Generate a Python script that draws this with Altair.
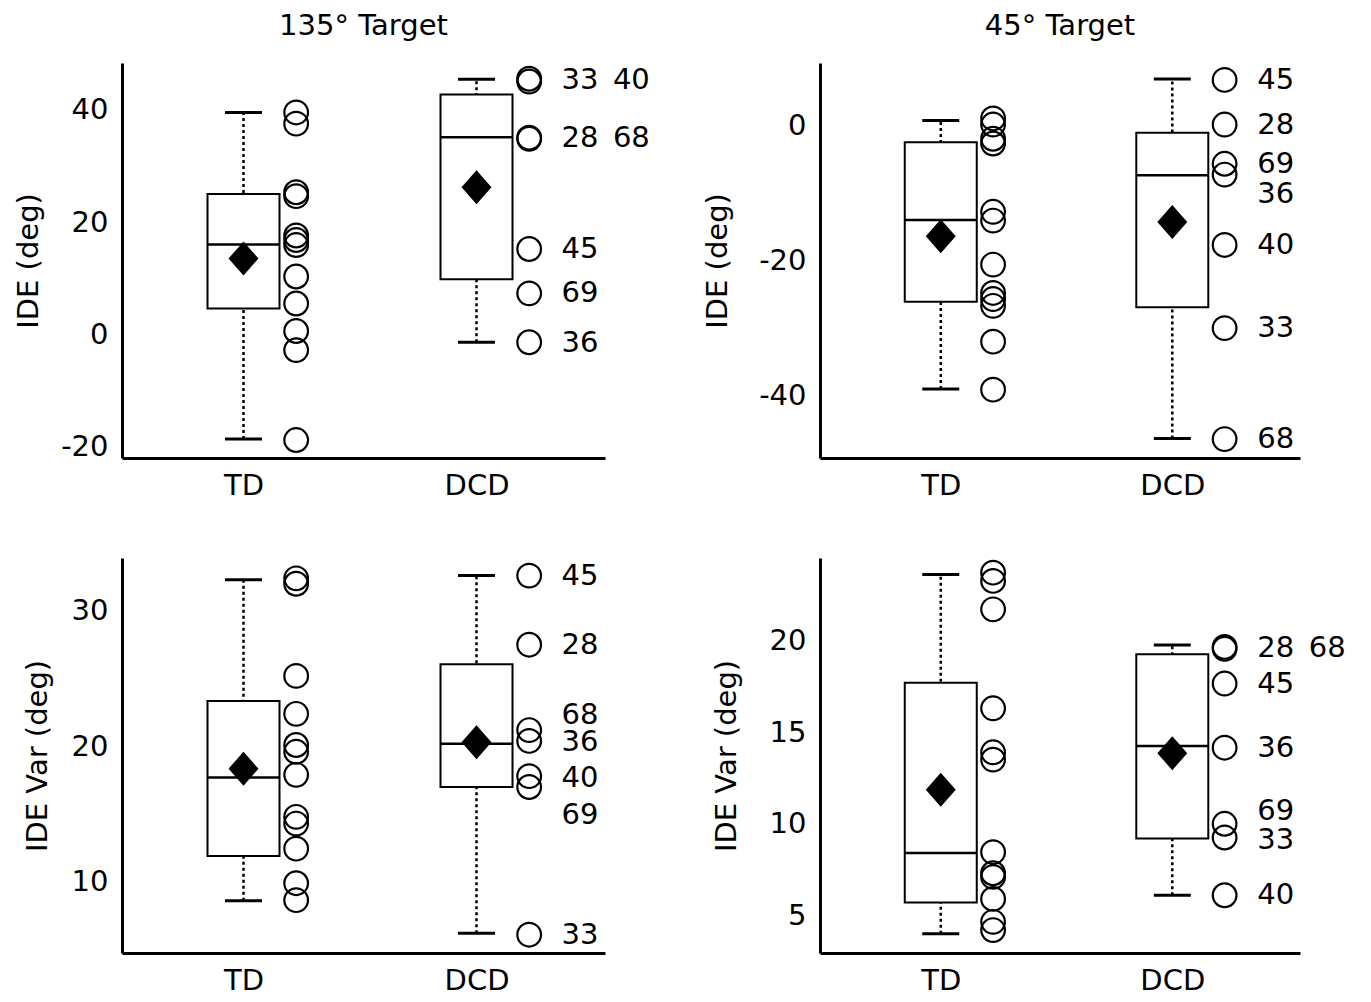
import altair as alt
import pandas as pd

groups = ["TD", "DCD"]
group_pos = [1, 2]

panel_titles = ["135° Target", "45° Target", "", ""]
y_titles = ["IDE (deg)", "IDE (deg)", "IDE Var (deg)", "IDE Var (deg)"]
y_domains = [[-22, 48.3], [-49.2, 9.2], [4.75, 33.9], [2.95, 24.5]]
y_ticks = [[-20, 0, 20, 40], [-40, -20, 0], [10, 20, 30], [5, 10, 15, 20]]

# box statistics per panel: [TD, DCD]
whisker_lo = [[-18.6, -1.4], [-39.0, -46.3], [8.6, 6.2], [4.0, 6.1]]
box_q1 = [[4.6, 9.8], [-26.1, -26.9], [11.9, 17.0], [5.7, 9.2]]
box_median = [[16.0, 35.1], [-14.0, -7.4], [17.7, 20.2], [8.4, 14.25]]
box_q3 = [[25.0, 42.7], [-2.5, -1.1], [23.35, 26.05], [17.7, 19.25]]
whisker_hi = [[39.5, 45.4], [0.7, 6.85], [32.3, 32.6], [23.6, 19.75]]
group_mean = [[13.5, 26.2], [-16.4, -14.3], [18.35, 20.3], [11.85, 13.85]]

td_points = [
    [39.5, 37.5, 25.3, 24.6, 17.6, 16.8, 15.9, 10.3, 5.5, 0.6, -2.8, -18.8],
    [1.0, 0.1, -2.0, -2.7, -12.8, -14.1, -20.6, -24.8, -25.7, -26.7, -32.0, -39.1],
    [32.4, 32.0, 25.2, 22.4, 20.1, 19.6, 17.9, 14.8, 14.3, 12.45, 9.9, 8.65],
    [23.7, 23.25, 21.7, 16.3, 13.9, 13.5, 8.45, 7.3, 7.1, 5.9, 4.65, 4.2],
]
dcd_ids = [
    [33, 40, 28, 68, 45, 69, 36],
    [45, 28, 69, 36, 40, 33, 68],
    [45, 28, 68, 36, 40, 69, 33],
    [28, 68, 45, 36, 69, 33, 40],
]
dcd_points = [
    [45.5, 45.0, 35.0, 34.8, 15.2, 7.3, -1.4],
    [6.7, 0.1, -5.7, -7.3, -17.7, -30.0, -46.4],
    [32.6, 27.5, 21.2, 20.4, 17.8, 17.0, 6.1],
    [19.65, 19.55, 17.65, 14.15, 10.0, 9.25, 6.1],
]
dcd_label_text = [
    ["33\u200240", "28\u200268", "45", "69", "36"],
    ["45", "28", "69", "36", "40", "33", "68"],
    ["45", "28", "68", "36", "40", "69", "33"],
    ["28\u200268", "45", "36", "69", "33", "40"],
]
dcd_label_y = [
    [45.2, 35.0, 15.2, 7.3, -1.5],
    [6.7, 0.1, -5.7, -10.2, -17.7, -30.0, -46.4],
    [32.6, 27.5, 22.3, 20.3, 17.7, 14.9, 6.1],
    [19.6, 17.65, 14.15, 10.7, 9.1, 6.1],
]

FONT = "DejaVu Sans"
DIAMOND = "M0,-1L0.88,0L0,1L-0.88,0Z"
panel_widths = [483, 480, 483, 480]
title_x = [-79, -88, -70, -79]
PANEL_H = 395


def panel(i):
    box_df = pd.DataFrame({
        "group": groups, "pos": group_pos,
        "lo": whisker_lo[i], "q1": box_q1[i], "med": box_median[i],
        "q3": box_q3[i], "hi": whisker_hi[i], "mean": group_mean[i],
    })
    pts_df = pd.concat([
        pd.DataFrame({"group": "TD", "pos": 1, "value": td_points[i]}),
        pd.DataFrame({"group": "DCD", "pos": 2, "value": dcd_points[i], "id": dcd_ids[i]}),
    ], ignore_index=True)
    lab_df = pd.DataFrame({"pos": 2, "label": dcd_label_text[i], "value": dcd_label_y[i]})

    xs = alt.Scale(domain=[0.5, 2.53], nice=False, zero=False)
    ys = alt.Scale(domain=y_domains[i], nice=False, zero=False)
    xaxis = alt.Axis(values=[1, 2], labelExpr="datum.value == 1 ? 'TD' : 'DCD'", title=None)
    yaxis = alt.Axis(values=y_ticks[i], labelExpr="'' + datum.value", title=y_titles[i],
                     titleX=title_x[i])

    def X(f):
        return alt.X(f, scale=xs, axis=xaxis)

    def Y(f):
        return alt.Y(f, scale=ys, axis=yaxis)

    base = alt.Chart(box_df)
    whisk = base.mark_rule(strokeDash=[3, 3], strokeWidth=2.5, color="black").encode(
        x=X("pos:Q"), y=Y("lo:Q"), y2="hi:Q")
    box = base.mark_bar(size=72, fill="white", stroke="black", strokeWidth=2, opacity=1).encode(
        x=X("pos:Q"), y=Y("q1:Q"), y2="q3:Q")
    cap_lo = base.mark_tick(orient="horizontal", size=37, thickness=3, color="black", opacity=1).encode(
        x=X("pos:Q"), y=Y("lo:Q"))
    cap_hi = base.mark_tick(orient="horizontal", size=37, thickness=3, color="black", opacity=1).encode(
        x=X("pos:Q"), y=Y("hi:Q"))
    med = base.mark_tick(orient="horizontal", size=72, thickness=2.5, color="black", opacity=1).encode(
        x=X("pos:Q"), y=Y("med:Q"))
    mean = base.mark_point(shape=DIAMOND, size=1156, filled=True, color="black", opacity=1).encode(
        x=X("pos:Q"), y=Y("mean:Q"))
    pts = alt.Chart(pts_df).transform_calculate(px="datum.pos + 0.226").mark_point(
        shape="circle", size=560, filled=False, color="black", strokeWidth=2.2, opacity=1).encode(
        x=X("px:Q"), y=Y("value:Q"))
    labs = alt.Chart(lab_df).mark_text(align="left", baseline="middle", dx=85, fontSize=29,
                                       font=FONT, color="black").encode(
        x=X("pos:Q"), y=Y("value:Q"), text="label:N")

    props = dict(width=panel_widths[i], height=PANEL_H)
    if panel_titles[i]:
        props["title"] = alt.TitleParams(text=panel_titles[i], font=FONT, fontSize=29,
                                         fontWeight="normal", color="black", offset=22)
    return alt.layer(whisk, box, cap_lo, cap_hi, med, mean, pts, labs).properties(**props)


chart = alt.concat(
    panel(0), panel(1), panel(2), panel(3),
    columns=2, spacing=alt.RowColnumber(row=100, column=215), bounds="flush",
).properties(
    padding={"left": 5, "top": 3, "right": 5, "bottom": 5}
).configure_view(
    stroke="transparent"
).configure_axis(
    domainColor="black", domainWidth=3, labelColor="black", labelFont=FONT, labelFontSize=29,
    titleFont=FONT, titleFontSize=29, titleFontWeight="normal", titleColor="black",
    grid=False, ticks=False,
).configure_axisX(labelPadding=13).configure_axisY(labelPadding=14, titlePadding=18)

chart.save("out.html", embed_options={"renderer": "svg", "actions": False})
